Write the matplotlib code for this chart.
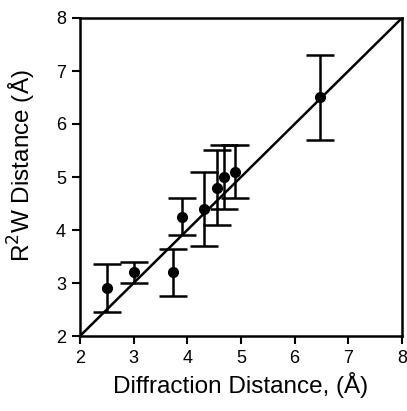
import matplotlib

matplotlib.use("Agg")

import matplotlib.pyplot as plt
import numpy as np

diffraction = [2.5, 3.0, 3.73, 3.9, 4.31, 4.55, 4.68, 4.89, 6.47]
r2w = [2.9, 3.2, 3.2, 4.25, 4.4, 4.8, 5.0, 5.1, 6.5]
r2w_err = [0.45, 0.2, 0.45, 0.35, 0.7, 0.7, 0.6, 0.5, 0.8]
ticks = [2, 3, 4, 5, 6, 7, 8]

plt.rcParams["font.family"] = ["Liberation Sans", "DejaVu Sans"]

fig = plt.figure(figsize=(4.07, 4.11), dpi=100)
ax = fig.add_axes([80 / 407, 1 - 336 / 411, 322 / 407, 318 / 411])

ax.plot([2, 8], [2, 8], color="black", lw=1.8, zorder=1)
ax.errorbar(diffraction, r2w, yerr=r2w_err, fmt="o", color="black", ms=7,
            elinewidth=1.8, capsize=10, capthick=1.8, zorder=2)

ax.set_xlim(2, 8)
ax.set_ylim(2, 8)
ax.set_xticks(ticks)
ax.set_yticks(ticks)
ax.tick_params(direction="out", length=6, width=1.5, labelsize=13, pad=4)
for s in ax.spines.values():
    s.set_linewidth(1.8)
ax.set_xlabel("Diffraction Distance, (Å)", fontsize=17.5, labelpad=4)
ax.set_ylabel("R$^2$W Distance (Å)", fontsize=17.5)
ax.yaxis.set_label_coords(-0.13, 0.535)

fig.savefig("out.png", dpi=100)
